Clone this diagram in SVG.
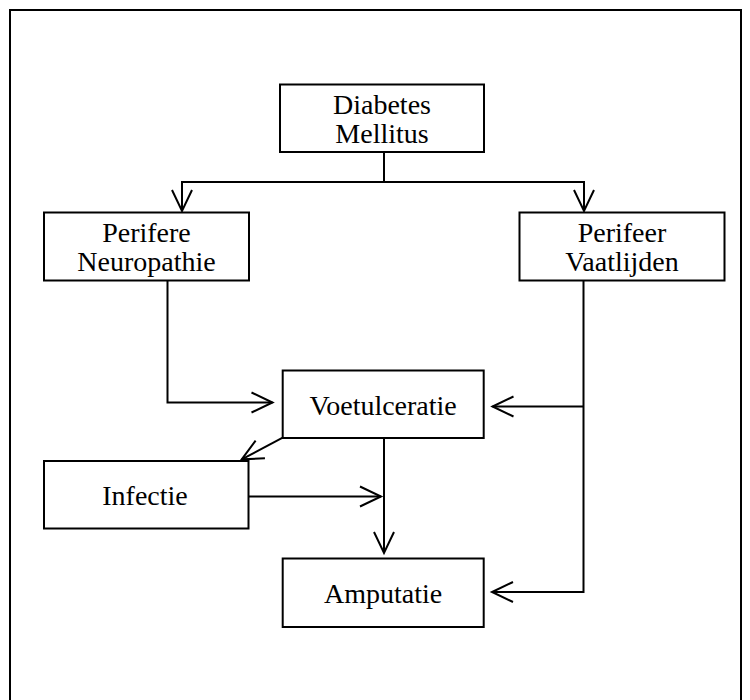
<svg xmlns="http://www.w3.org/2000/svg" width="750" height="700" viewBox="0 0 750 700">
<style>
  .box { fill: #fff; stroke: #000; stroke-width: 2; }
  .lbl { font-family: "Liberation Serif", "Times New Roman", serif; font-size: 28px; fill: #000; text-anchor: middle; }
  .con { fill: none; stroke: #000; stroke-width: 2; }
</style>
<defs>
  <marker id="arr" markerUnits="userSpaceOnUse" orient="auto" markerWidth="30" markerHeight="30" refX="0" refY="0" viewBox="-25 -15 30 30" overflow="visible">
    <path d="M-21,-10 L0,0 L-21,10" fill="none" stroke="#000" stroke-width="2"/>
  </marker>
</defs>
<rect x="10" y="10" width="731" height="720" fill="none" stroke="#000" stroke-width="2"/>

<g id="connectors">
  <path class="con" d="M384,152 V182"/>
  <path class="con" d="M384,182 H182 V211" marker-end="url(#arr)"/>
  <path class="con" d="M384,182 H584 V211" marker-end="url(#arr)"/>
  <path class="con" d="M167.5,281 V402.5 H272.5" marker-end="url(#arr)"/>
  <path class="con" d="M583.5,281 V592 H492" marker-end="url(#arr)"/>
  <path class="con" d="M583.5,406.5 H492.5" marker-end="url(#arr)"/>
  <path class="con" d="M282.7,437.7 L241.7,459.3" marker-end="url(#arr)"/>
  <path class="con" d="M248.5,496.5 H381" marker-end="url(#arr)"/>
  <path class="con" d="M384,438 V553" marker-end="url(#arr)"/>
</g>

<g id="n-diabetes">
  <rect class="box" x="280" y="84.5" width="204" height="67.5"/>
  <text class="lbl" x="382" y="114">Diabetes</text>
  <text class="lbl" x="382" y="142.7">Mellitus</text>
</g>
<g id="n-neuropathie">
  <rect class="box" x="44" y="212.5" width="205" height="68"/>
  <text class="lbl" x="146.5" y="242.3">Perifere</text>
  <text class="lbl" x="146.5" y="270.8">Neuropathie</text>
</g>
<g id="n-vaatlijden">
  <rect class="box" x="519.5" y="212.5" width="205" height="68"/>
  <text class="lbl" x="622" y="242.3">Perifeer</text>
  <text class="lbl" x="622" y="270.8">Vaatlijden</text>
</g>
<g id="n-voetulceratie">
  <rect class="box" x="282.7" y="370.5" width="201" height="67.5"/>
  <text class="lbl" x="383.2" y="415">Voetulceratie</text>
</g>
<g id="n-infectie">
  <rect class="box" x="44" y="461" width="204.5" height="67.5"/>
  <text class="lbl" x="145" y="505">Infectie</text>
</g>
<g id="n-amputatie">
  <rect class="box" x="282.7" y="558.5" width="201" height="68.5"/>
  <text class="lbl" x="383.2" y="603.3">Amputatie</text>
</g>
</svg>
